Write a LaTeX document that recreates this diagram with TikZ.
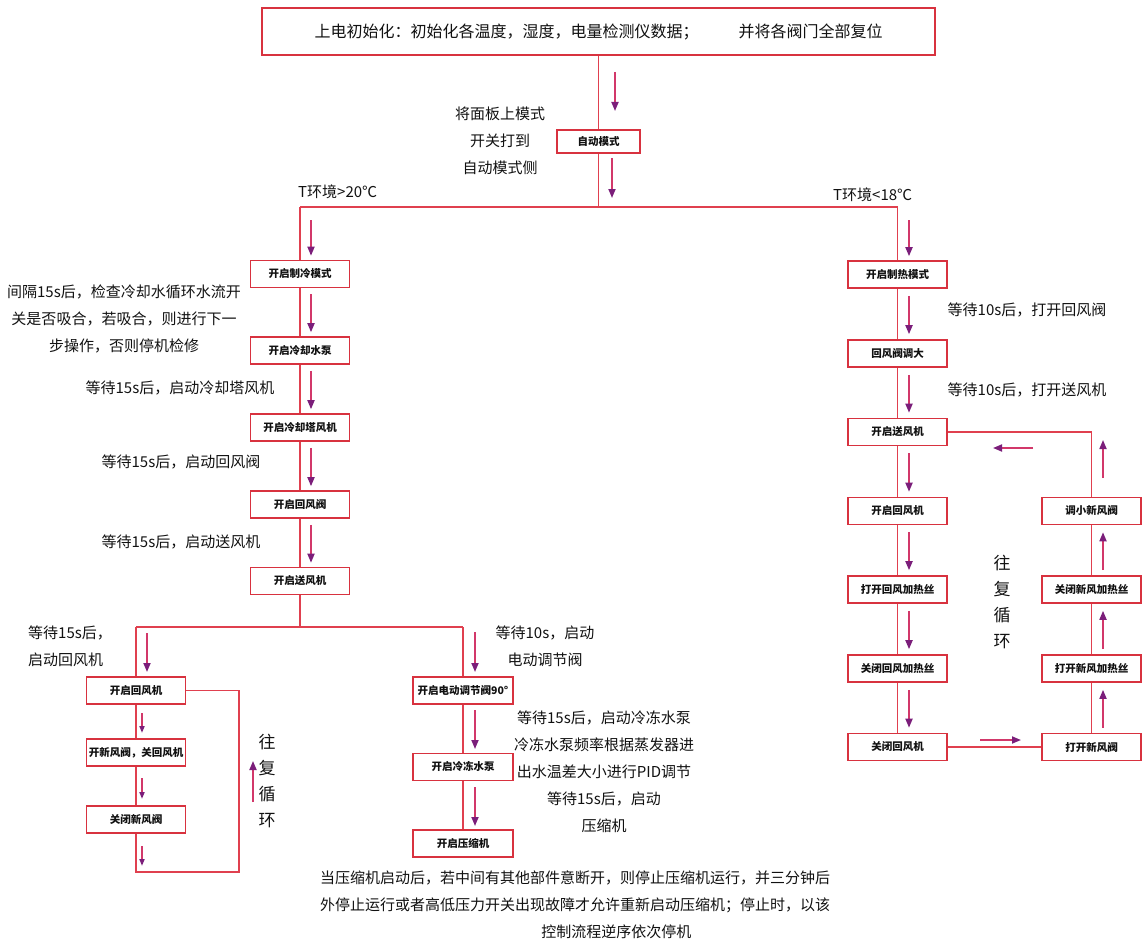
\documentclass[tikz,border=0pt]{standalone}
\usepackage{fontspec}
\newfontfamily\cjk{Noto Sans CJK SC}
\usetikzlibrary{arrows.meta,calc}
\definecolor{boxred}{HTML}{D8323F}
\definecolor{linered}{HTML}{E0404F}
\definecolor{shaftc}{HTML}{D2386A}
\definecolor{headc}{HTML}{7B1E7A}
\definecolor{txt}{HTML}{111111}
\tikzset{
  box/.style={draw=boxred, line width=1.6pt, fill=white, inner sep=0pt, minimum width=99pt, minimum height=27pt, font=\cjk\bfseries\fontsize{10.5}{12}\selectfont, text=txt},
  lnk/.style={draw=linered, line width=1.5pt},
  arr/.style={draw=shaftc, line width=1.7pt, -{Triangle[length=9pt,width=7pt,color=headc]}},
  lbl/.style={font=\cjk\fontsize{15}{27}\selectfont, text=txt, inner sep=0pt, align=center},
  vlbl/.style={font=\cjk\fontsize{17}{26}\selectfont, text=txt, inner sep=0pt, align=center},
}
\begin{document}
\begin{tikzpicture}[x=1pt,y=-1pt]
\useasboundingbox (0,0) rectangle (1146,947);
% top
\node[box, minimum width=673pt, minimum height=47pt, font=\cjk\fontsize{16}{18}\selectfont] (top) at (598.5,31.5) {上电初始化：初始化各温度，湿度，电量检测仪数据；\hspace{2.5em}并将各阀门全部复位};
\node[box, minimum width=83pt, minimum height=23pt] (auto) at (598.5,141.5) {自动模式};
\coordinate (j0) at (598.5,207);
\coordinate (jl) at (300,207);
\coordinate (jr) at (897.5,207);
\draw[lnk] (top.south) -- (auto.north);
\draw[lnk] (auto.south) -- (j0);
\draw[lnk] (jl) -- (jr);
\draw[arr] (615,72) -- (615,111);
\draw[arr] (612,158) -- (612,198);
\node[lbl] (lauto) at (500,141) {将面板上模式\\开关打到\\自动模式侧};
\node[lbl, anchor=west] (tl) at (298,192) {T环境>20℃};
\node[lbl, anchor=west] (tr) at (833,195) {T环境<18℃};

% left column
\node[box] (L1) at (300,274) {开启制冷模式};
\node[box] (L2) at (300,350.5) {开启冷却水泵};
\node[box] (L3) at (300,427.5) {开启冷却塔风机};
\node[box] (L4) at (300,504.5) {开启回风阀};
\node[box] (L5) at (300,581) {开启送风机};
\draw[lnk] (jl) -- (L1.north);
\draw[lnk] (L1) -- (L2);
\draw[lnk] (L2) -- (L3);
\draw[lnk] (L3) -- (L4);
\draw[lnk] (L4) -- (L5);
\coordinate (jb) at (300,627);
\coordinate (jbl) at (136,627);
\coordinate (jbm) at (463,627);
\draw[lnk] (L5.south) -- (jb);
\draw[lnk] (jbl) -- (jbm);
\draw[arr] (311,220) -- ($(L1.north)+(11,-4)$);
\foreach \a/\b in {L1/L2,L2/L3,L3/L4,L4/L5}{
  \draw[arr] ($(\a.south)+(11,6)$) -- ($(\b.north)+(11,-4)$);
}
\node[lbl] (t1) at (124,319) {间隔15s后，检查冷却水循环水流开\\关是否吸合，若吸合，则进行下一\\步操作，否则停机检修};
\node[lbl] (t2) at (180,388) {等待15s后，启动冷却塔风机};
\node[lbl] (t3) at (181,462) {等待15s后，启动回风阀};
\node[lbl] (t4) at (181,542) {等待15s后，启动送风机};

% sub-left
\node[box] (A1) at (136,690.5) {开启回风机};
\node[box] (A2) at (136,752.5) {开新风阀，关回风机};
\node[box] (A3) at (136,819.5) {关闭新风阀};
\coordinate (a4) at (136,872);
\coordinate (a5) at (239,872);
\coordinate (a6) at (239,690.5);
\draw[lnk] (jbl) -- (A1.north);
\draw[lnk] (A1) -- (A2);
\draw[lnk] (A2) -- (A3);
\draw[lnk] (A3.south) -- (a4) -- (a5) -- (a6) -- (A1.east);
\draw[arr] (147,633) -- (147,672);
\draw[arr, -{Triangle[length=7pt,width=5pt,color=headc]}] (142,713) -- (142,733);
\draw[arr, -{Triangle[length=7pt,width=5pt,color=headc]}] (142,778) -- (142,799);
\draw[arr, -{Triangle[length=7pt,width=5pt,color=headc]}] (142,846) -- (142,866);
\draw[arr] (253,802) -- (253,761);
\node[lbl, align=left, anchor=west] (t5) at (28,646.5) {等待15s后，\\启动回风机};
\node[vlbl] (loopL) at (267,781) {往\\复\\循\\环};

% middle
\node[box, minimum width=100pt] (B1) at (463,690.5) {开启电动调节阀90°};
\node[box, minimum width=100pt] (B2) at (463,767) {开启冷冻水泵};
\node[box, minimum width=100pt] (B3) at (463,843.5) {开启压缩机};
\draw[lnk] (jbm) -- (B1.north);
\draw[lnk] (B1) -- (B2);
\draw[lnk] (B2) -- (B3);
\draw[arr] (475,632) -- (475,672);
\draw[arr] (475,710) -- (475,749);
\draw[arr] (475,787) -- (475,826);
\node[lbl] (t6) at (545,646.5) {等待10s，启动\\电动调节阀};
\node[lbl] (t7) at (604,771.5) {等待15s后，启动冷冻水泵\\冷冻水泵频率根据蒸发器进\\出水温差大小进行PID调节\\等待15s后，启动\\压缩机};

% right column
\node[box] (R1) at (897.5,274.5) {开启制热模式};
\node[box] (R2) at (897.5,353.5) {回风阀调大};
\node[box] (R3) at (897.5,432) {开启送风机};
\node[box] (R4) at (897.5,511) {开启回风机};
\node[box] (R5) at (897.5,589.5) {打开回风加热丝};
\node[box] (R6) at (897.5,668.5) {关闭回风加热丝};
\node[box] (R7) at (897.5,747) {关闭回风机};
\draw[lnk] (jr) -- (R1.north);
\foreach \a/\b in {R1/R2,R2/R3,R3/R4,R4/R5,R5/R6,R6/R7}{
  \draw[lnk] (\a) -- (\b);
  \draw[arr] ($(\a.south)+(11.5,7)$) -- ($(\b.north)+(11.5,-5)$);
}
\draw[arr] (909,220) -- ($(R1.north)+(11.5,-4)$);
\node[box] (S1) at (1091.5,511) {调小新风阀};
\node[box] (S2) at (1091.5,589.5) {关闭新风加热丝};
\node[box] (S3) at (1091.5,668.5) {打开新风加热丝};
\node[box] (S4) at (1091.5,747) {打开新风阀};
\coordinate (s0) at (1091.5,432);
\draw[lnk] (R7) -- (S4);
\draw[lnk] (S4) -- (S3);
\draw[lnk] (S3) -- (S2);
\draw[lnk] (S2) -- (S1);
\draw[lnk] (S1.north) -- (s0) -- (R3.east);
\foreach \a/\b in {S4/S3,S3/S2,S2/S1}{
  \draw[arr] ($(\a.north)+(11.5,-5)$) -- ($(\b.south)+(11.5,7)$);
}
\draw[arr] (1103,478) -- (1103,440);
\draw[arr] (1033,448) -- (993,448);
\draw[arr] (980,740) -- (1021,740);
\node[lbl] (t8) at (1027,310) {等待10s后，打开回风阀};
\node[lbl] (t9) at (1027,390) {等待10s后，打开送风机};
\node[vlbl] (loopR) at (1002,602) {往\\复\\循\\环};

% bottom
\node[lbl, font=\cjk\fontsize{15}{27}\selectfont] (bot) at (575,905) {当压缩机启动后，若中间有其他部件意断开，则停止压缩机运行，并三分钟后\\外停止运行或者高低压力开关出现故障才允许重新启动压缩机；停止时，以该\\\hspace*{5.5em}控制流程逆序依次停机};
\end{tikzpicture}
\end{document}
